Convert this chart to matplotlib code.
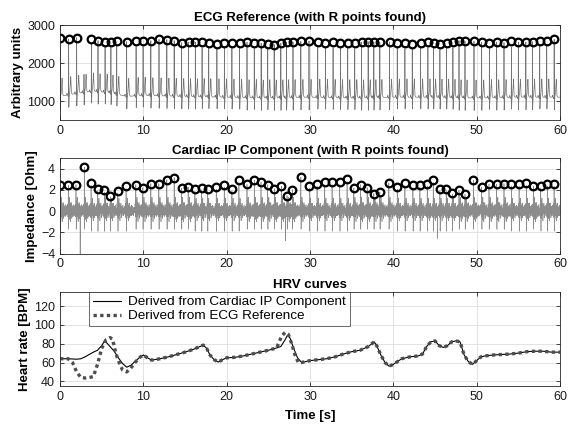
import numpy as np
import matplotlib
matplotlib.use('Agg')
import matplotlib.pyplot as plt

plt.rcParams['font.family'] = ['Liberation Sans', 'DejaVu Sans']

# ---------------- data ----------------
# ECG reference: detected R points (time [s], amplitude [a.u.])
ecg_r_t = [0.0, 1.04, 2.0, 3.77, 4.56, 5.41, 6.11, 6.81, 8.0, 9.13, 9.97, 10.9,
           11.88, 12.82, 13.7, 14.6, 15.42, 16.24, 17.05, 17.85, 18.83, 19.73,
           20.63, 21.55, 22.44, 23.31, 24.14, 24.93, 25.7, 26.5, 27.18, 27.96,
           28.9, 29.88, 30.93, 31.85, 32.77, 33.65, 34.53, 35.37, 36.18, 36.98,
           37.66, 38.38, 39.54, 40.47, 41.39, 42.27, 43.27, 44.15, 44.83, 45.59,
           46.39, 47.15, 47.88, 48.6, 49.68, 50.6, 51.53, 52.4, 53.28, 54.17,
           55.0, 55.9, 56.7, 57.57, 58.41, 59.3]
ecg_r_amp = [2649, 2632, 2667, 2632, 2588, 2561, 2544, 2579, 2561, 2579, 2579, 2588,
             2623, 2614, 2588, 2535, 2544, 2544, 2544, 2535, 2500, 2535,
             2535, 2535, 2544, 2526, 2518, 2500, 2482, 2518, 2553, 2553,
             2570, 2579, 2553, 2535, 2544, 2535, 2535, 2526, 2553, 2561,
             2553, 2544, 2553, 2535, 2518, 2500, 2526, 2553, 2535, 2491,
             2535, 2544, 2588, 2570, 2570, 2544, 2526, 2553, 2535, 2570,
             2544, 2553, 2561, 2588, 2588, 2623]
# an undetected small beat in the ECG
ecg_missed_t = [2.88]
ecg_missed_amp = [1700]
# slow ECG baseline
ecg_base_t = [0, 2, 4, 6, 8, 10, 15, 20, 25, 30, 35, 40, 45, 50, 55, 60]
ecg_base_v = [1120, 1200, 1260, 1220, 1120, 1150, 1120, 1100, 1080, 1100, 1080, 1100,
              1100, 1080, 1100, 1100]
# beat morphology (offset from R [s], value above baseline)
ecg_tmpl_t = [-0.25, -0.20, -0.16, -0.12, -0.05, -0.02, 0.0, 0.02, 0.04, 0.08, 0.14,
              0.20, 0.25, 0.28, 0.33, 0.42, 2.0]
ecg_tmpl_v = [0, 50, 0, 0, -40, 0, 1.0, -330, -120, 20, 80, 260, 480, 300, 40, 0, 0]

# Cardiac IP component: detected R points (time [s], impedance [Ohm])
ip_r_t = [0, 1.0, 1.92, 2.92, 3.73, 4.53, 5.33, 6.05, 6.93, 7.93, 9.1, 9.94,
          10.9, 11.86, 12.82, 13.7, 14.58, 15.38, 16.19, 16.99, 17.71, 18.75,
          19.71, 20.63, 21.47, 22.44, 23.32, 24.12, 24.92, 25.72, 26.56, 27.24,
          27.88, 28.9, 29.93, 30.85, 31.77, 32.65, 33.57, 34.45, 35.26, 36.06,
          36.86, 37.66, 38.38, 39.46, 40.47, 41.39, 42.35, 43.19, 44.07, 44.79,
          45.59, 46.35, 47.07, 47.88, 48.6, 49.6, 50.6, 51.48, 52.4, 53.28,
          54.17, 55.09, 55.97, 56.8, 57.69, 58.49, 59.29]
ip_r_v = [2.43, 2.43, 2.49, 4.15, 2.68, 2.11, 1.96, 1.46, 1.86, 2.33, 2.49, 2.21,
          2.59, 2.59, 2.96, 3.15, 2.17, 2.27, 2.05, 2.21, 2.11, 2.27,
          2.49, 2.11, 2.96, 2.52, 2.9, 2.71, 2.49, 2.11, 2.33, 1.46,
          2.02, 3.21, 2.36, 2.59, 2.74, 2.74, 2.74, 3.06, 2.17, 2.49,
          2.21, 1.65, 1.8, 2.65, 2.27, 2.65, 2.43, 2.49, 2.59, 2.96,
          2.11, 2.11, 1.74, 1.96, 1.58, 2.9, 2.27, 2.52, 2.52, 2.59,
          2.59, 2.59, 2.65, 2.36, 2.36, 2.59, 2.59]
ip_tmpl_t = [-0.12, -0.09, -0.05, -0.02, 0.0, 0.03, 0.06, 0.10, 0.14, 0.18, 0.22,
             0.26, 0.30, 0.34, 0.38, 0.42, 0.46, 0.50, 0.54, 0.58, 0.62, 0.66,
             0.70, 0.74, 0.78, 0.82, 0.86, 0.90, 0.94, 0.98, 1.02, 1.06, 1.10, 2.0]
ip_tmpl_v = [0.0, 0.7, -0.6, 0.2, 1.0, -1.9, 1.0, -0.8, 1.3, -0.5, 0.8,
             -1.0, 0.6, -0.3, 0.8, -0.7, 0.5, -0.5, 0.4, -0.3, 0.6, -0.5,
             0.3, -0.4, 0.5, -0.3, 0.3, -0.5, 0.4, -0.2, 0.3, -0.3, 0.0, 0.0]
ip_art_t = [2.42, 27.05, 45.3]
ip_art_v = [-4.6, -2.8, -2.3]

# HRV curves (time [s], heart rate [BPM])
hr_ip_t = [0, 1, 2, 2.5, 3, 3.5, 4, 4.5, 5, 5.3, 5.6, 6, 6.5, 7, 7.5, 8, 8.5, 9,
           9.5, 10, 10.5, 11, 12, 13, 14, 15, 16, 16.8, 17.2, 17.6, 18, 18.5, 19,
           19.5, 20, 21, 22, 23, 24, 25, 26, 26.5, 27, 27.3, 27.6, 28, 28.5, 29,
           30, 31, 32, 33, 34, 35, 36, 37, 37.7, 38, 38.5, 39, 39.5, 40, 40.5, 41,
           42, 43, 43.5, 44, 44.5, 45, 45.5, 46, 46.5, 47, 47.5, 48, 48.5, 49,
           49.5, 50, 50.5, 51, 52, 53, 54, 55, 56, 57, 58, 59, 60]
hr_ip_v = [64, 64, 63.5, 64, 66, 68.5, 71, 73, 78, 82, 81, 77, 72, 65, 59, 55, 57, 61,
           65, 68, 65, 62.5, 64, 66, 68.5, 71, 74, 77, 78.5, 75, 68, 63, 60.5,
           63, 65, 65.5, 67, 69, 71, 73, 75.5, 77, 84, 89, 86, 76, 65, 60,
           62, 63, 64, 66, 69, 71.5, 73, 77, 82, 78, 68, 60, 56, 58, 61, 64,
           66, 67, 69, 77, 82, 83, 78, 76, 78, 82, 83, 82, 68, 61,
           58, 62, 66, 67, 68, 68.5, 69, 70, 71.5, 72, 72, 71, 71]
hr_ecg_t = [0, 1, 1.5, 2, 2.5, 3, 3.5, 4, 4.5, 5, 5.5, 6, 6.3, 6.7, 7, 7.5, 8, 8.5,
            9, 9.5, 10, 10.5, 11, 12, 13, 14, 15, 16, 16.8, 17.2, 17.6, 18, 18.5,
            19, 19.5, 20, 21, 22, 23, 24, 25, 26, 26.2, 26.6, 27, 27.4, 27.8,
            28.2, 28.6, 29, 30, 31, 32, 33, 34, 35, 36, 37, 37.7, 38, 38.5, 39,
            39.5, 40, 40.5, 41, 42, 43, 43.5, 44, 44.5, 45, 45.5, 46, 46.5, 47,
            47.5, 48, 48.5, 49, 49.5, 50, 50.5, 51, 52, 53, 54, 55, 56, 57, 58,
            59, 60]
hr_ecg_v = [64, 64, 60, 50, 44, 43.5, 44, 45, 58, 75, 84, 86.5, 85, 70, 62, 52, 50, 54,
            60, 65, 68, 65, 62.5, 64, 66, 68.5, 71, 74, 77, 78.5, 75, 68, 63,
            60.5, 63, 65, 65.5, 67, 69, 71, 73, 75.5, 80, 88, 92, 90, 80,
            68, 60, 60, 62, 63, 64, 66, 69, 71.5, 73, 77, 82, 78, 68, 60,
            56, 58, 61, 64, 66, 67, 69, 77, 82, 83, 78, 76, 78, 82,
            83, 82, 68, 61, 58, 62, 66, 67, 68, 68.5, 69, 70, 71.5, 72, 72,
            71, 71]

# ---------------- build the waveforms ----------------
fs = 250.0
t = np.arange(0, 60.0, 1.0 / fs)
base = np.interp(t, ecg_base_t, ecg_base_v)

beats_t = np.array(ecg_r_t + ecg_missed_t)
beats_a = np.array(ecg_r_amp + ecg_missed_amp)
order = np.argsort(beats_t)
beats_t, beats_a = beats_t[order], beats_a[order]
ecg = base.copy()
tv = np.array(ecg_tmpl_v, dtype=float)
for i, (rt, ra) in enumerate(zip(beats_t, beats_a)):
    start = rt - 0.25
    end = beats_t[i + 1] - 0.25 if i + 1 < len(beats_t) else 60.0
    m = (t >= start) & (t < end)
    v = tv.copy()
    v[6] = ra - np.interp(rt, ecg_base_t, ecg_base_v)
    ecg[m] += np.interp(t[m] - rt, ecg_tmpl_t, v)

ip = np.zeros_like(t)
iv = np.array(ip_tmpl_v, dtype=float)
for i, (rt, rv) in enumerate(zip(ip_r_t, ip_r_v)):
    start = rt - 0.12 if i > 0 else 0.0
    end = ip_r_t[i + 1] - 0.12 if i + 1 < len(ip_r_t) else 60.0
    m = (t >= start) & (t < end)
    v = iv.copy()
    v[4] = rv
    ip[m] += np.interp(t[m] - rt, ip_tmpl_t, v)
for at, av in zip(ip_art_t, ip_art_v):
    ip += np.interp(t - at, [-0.02, 0, 0.02], [0, av, 0])

# ---------------- figure ----------------
fig = plt.figure(figsize=(5.71, 4.28), dpi=100)
L, W = 60 / 571, 500 / 571
ax1 = fig.add_axes([L, 1 - 120 / 428, W, 95 / 428])
ax2 = fig.add_axes([L, 1 - 253.5 / 428, W, 95.5 / 428])
ax3 = fig.add_axes([L, 1 - 386 / 428, W, 94 / 428])

spine_c = '0.15'
for ax in (ax1, ax2, ax3):
    ax.set_xlim(0, 60)
    ax.set_xticks(range(0, 61, 10))
    ax.grid(True, color='0.87', linewidth=0.6)
    ax.set_axisbelow(True)
    ax.tick_params(direction='in', top=True, right=True, labelsize=9,
                   length=3, width=0.6, colors=spine_c, labelcolor='0.1')
    for s in ax.spines.values():
        s.set_color(spine_c)
        s.set_linewidth(0.6)

ax1.plot(t, ecg, color='0.45', linewidth=0.5)
ax1.plot(ecg_r_t, ecg_r_amp, 'o', markersize=5.5, markerfacecolor='none',
         markeredgecolor='black', markeredgewidth=1.6)
ax1.set_ylim(500, 3000)
ax1.set_yticks([1000, 2000, 3000])
ax1.set_title('ECG Reference (with R points found)', fontsize=9.5,
              fontweight='bold', pad=3)
ax1.set_ylabel('Arbitrary units', fontsize=9.5, fontweight='bold', labelpad=2)

ax2.plot(t, ip, color='0.55', linewidth=0.45)
ax2.plot(ip_r_t, ip_r_v, 'o', markersize=5.5, markerfacecolor='none',
         markeredgecolor='black', markeredgewidth=1.6)
ax2.set_ylim(-4, 5)
ax2.set_yticks([-4, -2, 0, 2, 4])
ax2.set_title('Cardiac IP Component (with R points found)', fontsize=9.5,
              fontweight='bold', pad=3)
ax2.set_ylabel('Impedance [Ohm]', fontsize=9.5, fontweight='bold', labelpad=2)

ax3.plot(hr_ip_t, hr_ip_v, color='black', linewidth=0.8,
         label='Derived from Cardiac IP Component')
ax3.plot(hr_ecg_t, hr_ecg_v, color='0.3', linewidth=2.4, linestyle=(0, (1, 1)),
         label='Derived from ECG Reference')
ax3.set_ylim(35, 135)
ax3.set_yticks([40, 60, 80, 100, 120])
ax3.set_title('HRV curves', fontsize=9.5, fontweight='bold', pad=3)
ax3.set_ylabel('Heart rate [BPM]', fontsize=9.5, fontweight='bold', labelpad=2)
ax3.set_xlabel('Time [s]', fontsize=9.5, fontweight='bold', labelpad=5)
leg = ax3.legend(loc='upper left', bbox_to_anchor=(0.058, 1.0), fontsize=9.7,
                 frameon=True, fancybox=False, borderpad=0.3, labelspacing=0.1,
                 handlelength=2.1, handletextpad=0.5, borderaxespad=0)
leg.get_frame().set_edgecolor('0.15')
leg.get_frame().set_linewidth(0.6)

fig.savefig('out.png', dpi=100)
